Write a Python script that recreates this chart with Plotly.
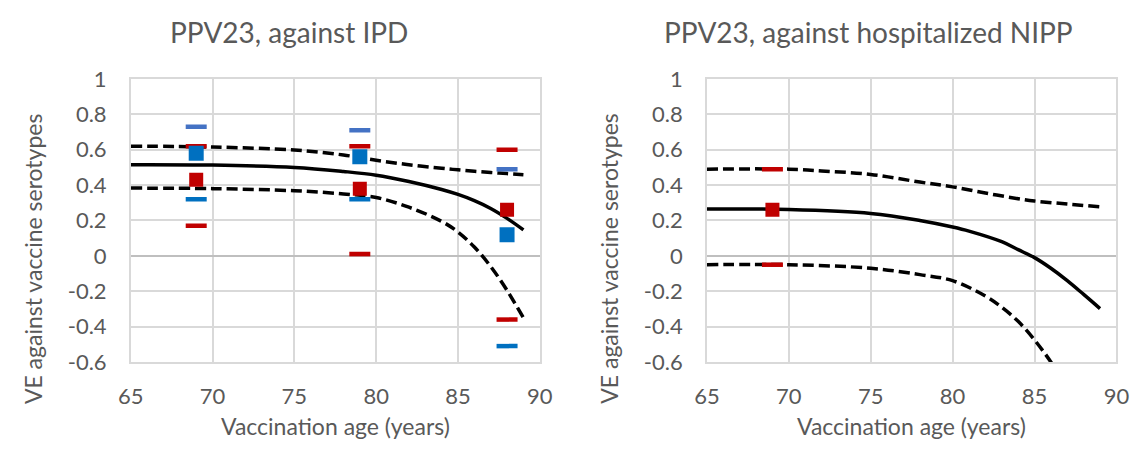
import plotly.graph_objects as go

# ---------------- data ----------------
# Left panel: PPV23 against IPD
ipd_curve_age = [65, 70, 75, 78, 80, 82, 84, 85, 86, 87, 88, 89]
ipd_ve = [0.515, 0.513, 0.50, 0.477, 0.456, 0.42, 0.375, 0.347, 0.312, 0.268, 0.212, 0.147]
ipd_ve_upper = [0.62, 0.615, 0.598, 0.57, 0.54, 0.515, 0.495, 0.486, 0.478, 0.471, 0.465, 0.458]
ipd_ve_lower = [0.383, 0.38, 0.368, 0.35, 0.33, 0.275, 0.195, 0.135, 0.05, -0.06, -0.195, -0.35]

ipd_obs_age = [69, 79, 88]
ipd_red = [0.43, 0.38, 0.26]
ipd_red_lower = [0.17, 0.01, -0.36]
ipd_red_upper = [0.62, 0.62, 0.60]
ipd_blue = [0.58, 0.56, 0.12]
ipd_blue_lower = [0.32, 0.32, -0.51]
ipd_blue_upper = [0.73, 0.71, 0.49]

# Right panel: PPV23 against hospitalized NIPP
nipp_curve_age = [65, 70, 75, 78, 80, 81, 83, 84, 85, 86, 87, 88, 89]
nipp_ve = [0.265, 0.262, 0.24, 0.20, 0.163, 0.14, 0.08, 0.035, -0.01, -0.07, -0.14, -0.218, -0.298]
nipp_upper_age = [65, 70, 72, 75, 78, 80, 82, 84, 85, 87, 89]
nipp_ve_upper = [0.49, 0.49, 0.48, 0.46, 0.417, 0.39, 0.355, 0.323, 0.31, 0.293, 0.277]
nipp_lower_age = [65, 70, 75, 78, 80, 82, 83, 84, 85, 86, 87]
nipp_ve_lower = [-0.05, -0.05, -0.07, -0.106, -0.14, -0.227, -0.29, -0.37, -0.475, -0.6, -0.75]

nipp_obs_age = [69]
nipp_red = [0.26]
nipp_red_lower = [-0.05]
nipp_red_upper = [0.49]

x_ticks = [65, 70, 75, 80, 85, 90]
x_ticktext = ["65", "70", "75", "80", "85", "90"]
y_ticks = [-0.6, -0.4, -0.2, 0, 0.2, 0.4, 0.6, 0.8, 1]
y_ticktext = ["-0.6", "-0.4", "-0.2", "0", "0.2", "0.4", "0.6", "0.8", "1"]

titles = ["PPV23, against IPD", "PPV23, against hospitalized NIPP"]
x_title = "Vaccination age (years)"
y_title = "VE against vaccine serotypes"

# ---------------- style ----------------
W, H = 1147, 455
FONT = "Lato"
TXT = "#595959"
GRID = "#D9D9D9"
RED = "#C00000"
BLUE = "#0070C0"
LBLUE = "#4472C4"

fig = go.Figure()


def curves(ax, ages, solid, up_age, up, lo_age, lo):
    xa, ya = ("x", "y") if ax == 1 else ("x2", "y2")
    fig.add_trace(go.Scatter(x=up_age, y=up, mode="lines", xaxis=xa, yaxis=ya,
                             line=dict(color="black", width=3.5, dash="11px,5px", shape="spline"),
                             showlegend=False, hoverinfo="skip"))
    fig.add_trace(go.Scatter(x=lo_age, y=lo, mode="lines", xaxis=xa, yaxis=ya,
                             line=dict(color="black", width=3.5, dash="11px,5px", shape="spline"),
                             showlegend=False, hoverinfo="skip"))
    fig.add_trace(go.Scatter(x=ages, y=solid, mode="lines", xaxis=xa, yaxis=ya,
                             line=dict(color="black", width=3.5, shape="spline"),
                             showlegend=False, hoverinfo="skip"))


def dashes(ax, x, y, color):
    xa, ya = ("x", "y") if ax == 1 else ("x2", "y2")
    fig.add_trace(go.Scatter(x=x, y=y, mode="markers", xaxis=xa, yaxis=ya,
                             marker=dict(symbol="line-ew", size=15,
                                         line=dict(color=color, width=4.5)),
                             showlegend=False))


def squares(ax, x, y, color, size):
    xa, ya = ("x", "y") if ax == 1 else ("x2", "y2")
    fig.add_trace(go.Scatter(x=x, y=y, mode="markers", xaxis=xa, yaxis=ya,
                             marker=dict(symbol="square", size=size, color=color,
                                         line=dict(width=0)),
                             showlegend=False))


# left panel
curves(1, ipd_curve_age, ipd_ve, ipd_curve_age, ipd_ve_upper, ipd_curve_age, ipd_ve_lower)
dashes(1, ipd_obs_age, ipd_red_upper, RED)
dashes(1, ipd_obs_age, ipd_red_lower, RED)
squares(1, ipd_obs_age, ipd_red, RED, 14)
dashes(1, ipd_obs_age, ipd_blue_upper, LBLUE)
dashes(1, ipd_obs_age, ipd_blue_lower, BLUE)
squares(1, ipd_obs_age, ipd_blue, BLUE, 15)

# right panel
curves(2, nipp_curve_age, nipp_ve, nipp_upper_age, nipp_ve_upper, nipp_lower_age, nipp_ve_lower)
dashes(2, nipp_obs_age, nipp_red_upper, RED)
dashes(2, nipp_obs_age, nipp_red_lower, RED)
squares(2, nipp_obs_age, nipp_red, RED, 14)

L1, R1 = 120.5, 539
L2, R2 = 710, 1129
TOP, BOT = 69, 370

xcommon = dict(range=[65, 90], tickmode="array", tickvals=x_ticks, ticktext=x_ticktext,
               showgrid=True, gridcolor=GRID, gridwidth=1.5, zeroline=False,
               showline=True, mirror=True, linecolor=GRID, linewidth=1.5,
               ticks="", tickfont=dict(family=FONT, size=22, color=TXT),
               ticklabelstandoff=14, fixedrange=True)
ycommon = dict(range=[-0.6, 1], tickmode="array", tickvals=y_ticks, ticktext=y_ticktext,
               showgrid=True, gridcolor=GRID, gridwidth=1.5,
               zeroline=True, zerolinecolor="#BFBFBF", zerolinewidth=1.5,
               showline=True, mirror=True, linecolor=GRID, linewidth=1.5,
               ticks="", tickfont=dict(family=FONT, size=22, color=TXT),
               ticklabelstandoff=18, fixedrange=True)

ydom = [(H - BOT) / H, (H - TOP) / H]
fig.update_layout(
    width=W, height=H, margin=dict(l=0, r=0, t=0, b=0),
    paper_bgcolor="white", plot_bgcolor="white",
    xaxis=dict(domain=[L1 / W, R1 / W], anchor="y", **xcommon),
    yaxis=dict(domain=ydom, anchor="x", **ycommon),
    xaxis2=dict(domain=[L2 / W, R2 / W], anchor="y2", **xcommon),
    yaxis2=dict(domain=ydom, anchor="x2", **ycommon),
    showlegend=False,
)

ann = []
for cx, t in [(282, titles[0]), (875, titles[1])]:
    ann.append(dict(text=t, x=cx / W, y=(H - 19) / H, xref="paper", yref="paper",
                    xanchor="center", yanchor="middle", showarrow=False,
                    font=dict(family=FONT, size=28, color=TXT)))
for cx in [(L1 + R1) / 2, (L2 + R2) / 2]:
    ann.append(dict(text=x_title, x=cx / W, y=(H - 438) / H, xref="paper", yref="paper",
                    xanchor="center", yanchor="middle", showarrow=False,
                    font=dict(family=FONT, size=23, color=TXT)))
for cx in [20, 609]:
    ann.append(dict(text=y_title, x=cx / W, y=(H - 260) / H, xref="paper", yref="paper",
                    xanchor="center", yanchor="middle", showarrow=False, textangle=-90,
                    font=dict(family=FONT, size=23, color=TXT)))
fig.update_layout(annotations=ann)

fig.write_html("out.html")
